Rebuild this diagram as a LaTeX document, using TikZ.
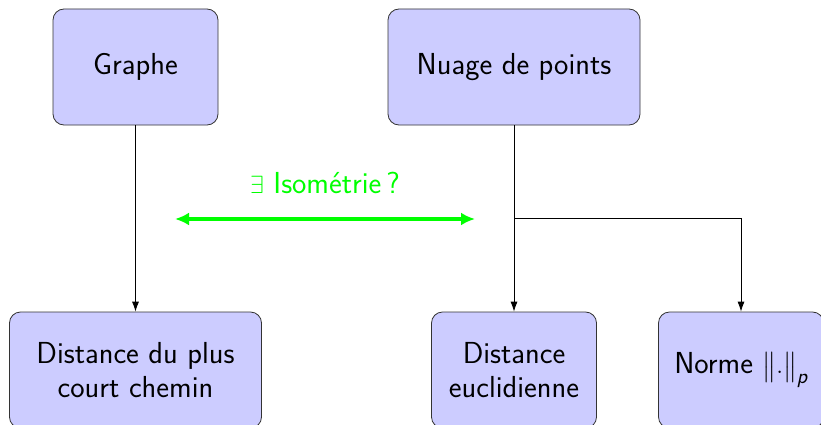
\documentclass[tikz,border=0pt]{standalone}
\usepackage{amsmath}
\usepackage{fontspec}
\usetikzlibrary{arrows.meta}
\definecolor{boxfill}{RGB}{204,204,255}
\definecolor{isogreen}{RGB}{0,255,0}
\tikzset{
  txt/.style={font=\sffamily\fontsize{30.4}{33.5}\selectfont},
  box/.style={txt, draw=black!80, line width=0.8pt, fill=boxfill, rounded corners=11pt,
    minimum height=116pt, align=center, inner sep=0pt},
  narrow/.style={box, minimum width=165pt},
  wide/.style={box, minimum width=252pt},
  arr/.style={line width=0.8pt, -{Latex[length=10pt,width=7pt]}},
  isoarr/.style={isogreen, line width=4pt, {Latex[length=14pt,width=13pt]}-{Latex[length=14pt,width=13pt]}},
  isolabel/.style={txt, text=isogreen}
}
\begin{document}
\begin{tikzpicture}[x=1pt,y=-1pt]
\useasboundingbox (0,0) rectangle (821,425);
\node[narrow] (g) at (135.5,67) {Graphe};
\node[wide] (n) at (514,67) {Nuage de points};
\node[wide] (d1) at (135.5,370) {Distance du plus\\court chemin};
\node[narrow] (de) at (514,370) {Distance\\euclidienne};
\node[narrow] (no) at (741,370) {Norme $\big\|.\big\|_{\text{\sffamily\itshape p}}$};
\coordinate (j) at (514,218);
\draw[arr] (g) -- (d1);
\draw[arr] (n) -- (de);
\draw[arr] (j) -| (no);
\coordinate (a1) at (175,219);
\coordinate (a2) at (475,219);
\draw[isoarr] (a1) -- (a2);
\node[isolabel] (lab) at (325,183) {$\exists$ Isométrie\,?};
\end{tikzpicture}
\end{document}
